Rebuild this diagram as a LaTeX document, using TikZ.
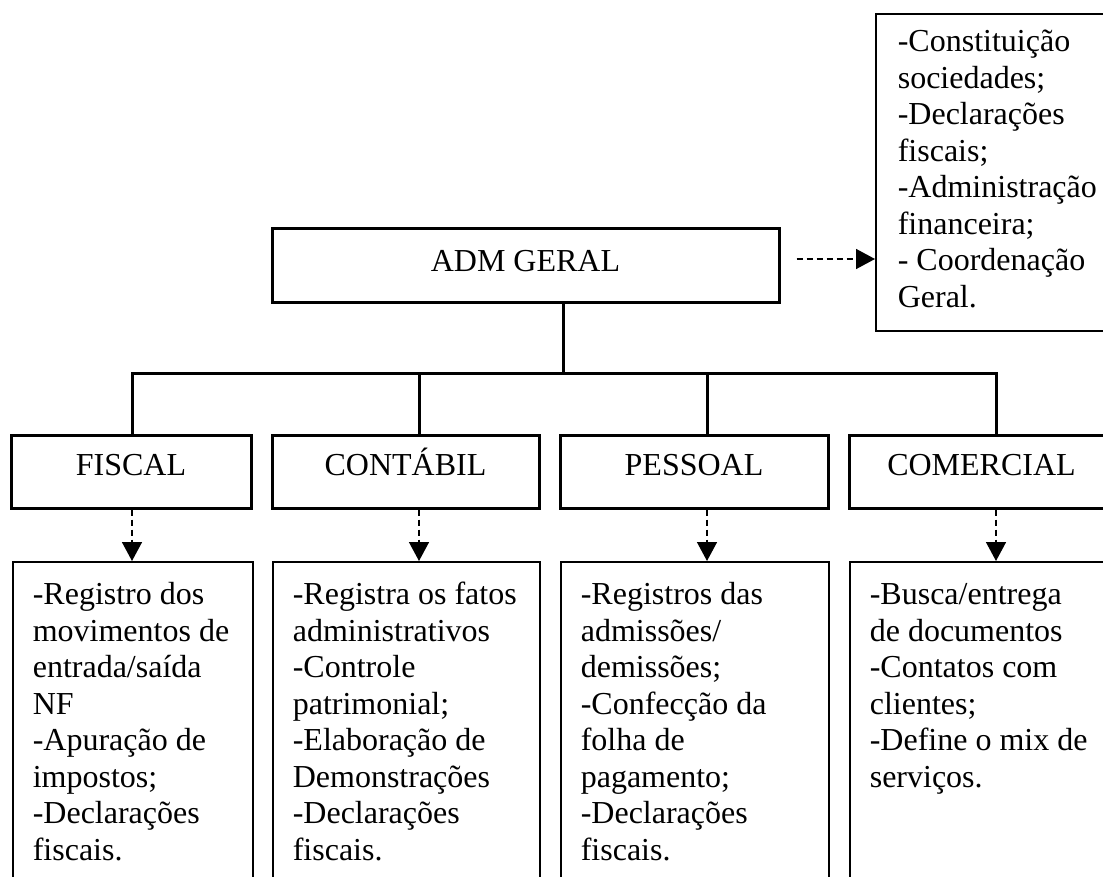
\documentclass[tikz,border=0pt]{standalone}
\usepackage{fontspec}
\setmainfont{Liberation Serif}
\usetikzlibrary{arrows.meta}

% text block with a fixed height, aligned to the top
\newcommand\listblock[3]{\parbox[t][#1][t]{#2}{\raggedright\strut #3}}

\tikzset{
  txt/.style={font=\fontsize{32}{36.5}\selectfont},
  unit/.style={txt, draw, line width=3pt, inner sep=0pt},
  detail/.style={txt, draw, line width=1.6pt, anchor=north west,
    inner xsep=20pt, inner ysep=17.45pt},
  bus/.style={line width=3pt},
  flow/.style={line width=1.5pt, dash pattern=on 6pt off 4pt,
    -{Triangle[width=20pt,length=19pt]}},
}

\begin{document}
\begin{tikzpicture}[x=1pt,y=-1pt]
\useasboundingbox (0,0) rectangle (1103,877);

% duties of the general administration
\node[detail, inner xsep=22pt, inner ysep=12.45pt] (duties) at (875,13)
  {\listblock{292pt}{200pt}{-Constituição\\sociedades;\\-Declarações\\fiscais;\\-Administração\\financeira;\\- Coordenação\\Geral.}};

% top unit
\node[unit, minimum width=507pt, minimum height=74pt,
      text height=21pt, text depth=9pt] (adm) at (525.5,266) {ADM GERAL};

% departments
\node[unit, minimum width=240pt, minimum height=73pt,
      text height=21pt, text depth=14pt] (fiscal) at (131,471.5) {FISCAL};
\node[unit, minimum width=267pt, minimum height=73pt,
      text height=21pt, text depth=14pt] (contabil) at (405.5,471.5) {CONTÁBIL};
\node[unit, minimum width=268pt, minimum height=73pt,
      text height=21pt, text depth=14pt] (pessoal) at (694,471.5) {PESSOAL};
\node[unit, minimum width=265pt, minimum height=73pt,
      text height=21pt, text depth=14pt] (comercial) at (981.5,471.5) {COMERCIAL};

% department tasks
\node[detail] (fiscaltasks) at (12,561)
  {\listblock{330pt}{200pt}{-Registro dos\\movimentos de\\entrada/saída\\NF\\-Apuração de\\impostos;\\-Declarações\\fiscais.}};
\node[detail] (contabiltasks) at (272,561)
  {\listblock{330pt}{227pt}{-Registra os fatos\\administrativos\\-Controle\\patrimonial;\\-Elaboração de\\Demonstrações\\-Declarações\\fiscais.}};
\node[detail] (pessoaltasks) at (560,561)
  {\listblock{330pt}{228pt}{-Registros das\\admissões/\\demissões;\\-Confecção da\\folha de\\pagamento;\\-Declarações\\fiscais.}};
\node[detail] (comercialtasks) at (849,561)
  {\listblock{330pt}{225pt}{-Busca/entrega\\de documentos\\-Contatos com\\clientes;\\-Define o mix de\\serviços.}};

% junction points on the horizontal bus
\coordinate (top) at (563,373);
\coordinate (j1) at (132,373);
\coordinate (j2) at (419,373);
\coordinate (j3) at (707,373);
\coordinate (j4) at (996,373);

% solid hierarchy lines
\draw[bus] (adm.south -| top) -- (top);
\draw[bus] (fiscal.north -| j1) -- (j1) -- (j4) -- (comercial.north -| j4);
\draw[bus] (j2) -- (contabil.north -| j2);
\draw[bus] (j3) -- (pessoal.north -| j3);

% dashed links to the task lists
\draw[flow] (fiscal.south -| j1) -- (fiscaltasks.north -| j1);
\draw[flow] (contabil.south -| j2) -- (contabiltasks.north -| j2);
\draw[flow] (pessoal.south -| j3) -- (pessoaltasks.north -| j3);
\draw[flow] (comercial.south -| j4) -- (comercialtasks.north -| j4);
\draw[flow, shorten <=16pt] ([yshift=7pt]adm.east) -- ([yshift=7pt]adm.east -| duties.west);
\end{tikzpicture}
\end{document}
